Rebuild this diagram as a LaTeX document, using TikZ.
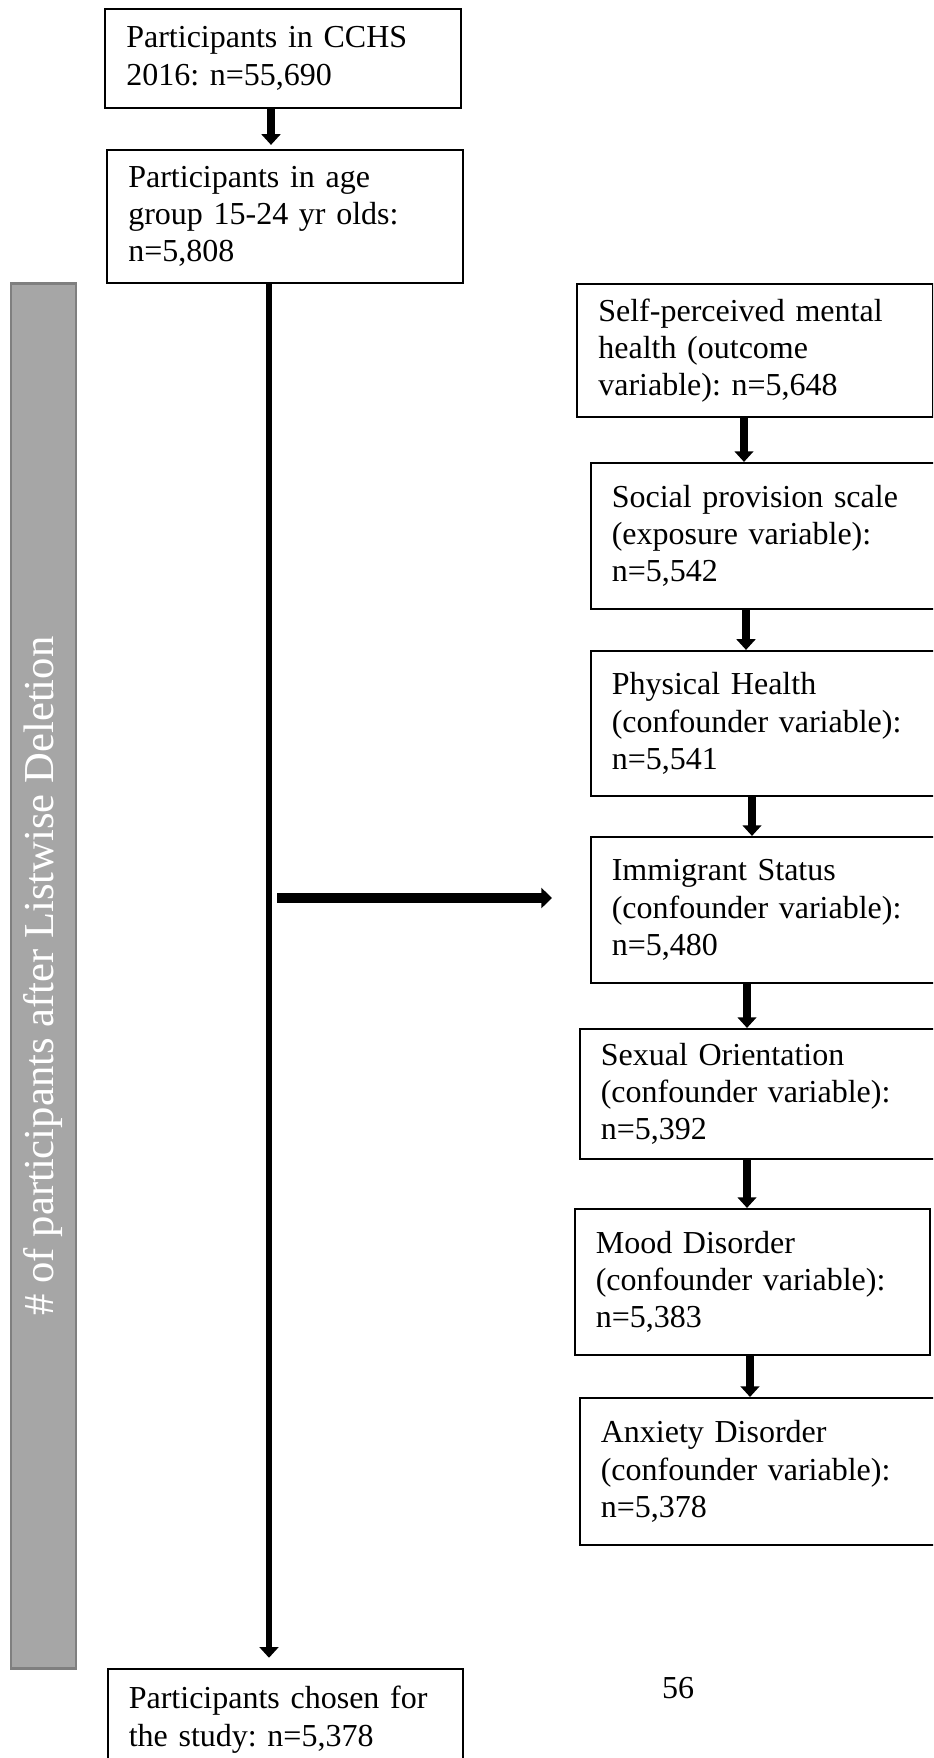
\documentclass[tikz,border=0pt]{standalone}
\usepackage{fontspec}
\setmainfont{Liberation Serif}
\usepackage{xcolor}
\usepackage{tikz}
\usetikzlibrary{arrows.meta,positioning}
\definecolor{barfill}{HTML}{A6A6A6}
\definecolor{barline}{HTML}{7F7F7F}
\frenchspacing

\begin{document}
\begin{tikzpicture}[
    x=0.375pt, y=-0.375pt,
    flowbox/.style={draw, line width=0.8pt, align=left, text width=117.5pt, inner xsep=7.9pt, inner ysep=0pt, font=\fontsize{12}{14}\selectfont},
    arrow/.style={-{Triangle[length=4pt, width=7pt]}, line width=3.2pt},
    mainline/.style={-{Triangle[length=4pt, width=7pt]}, line width=2.6pt},
    sidearrow/.style={-{Triangle[length=4pt, width=7.5pt]}, line width=3.6pt}
]
\useasboundingbox (0,0) rectangle (933,1758);
\clip (0,0) rectangle (933,1758);

% left column
\node[flowbox, minimum height=37.1pt] (cchs) at (283,58.5) {Participants in CCHS\\2016: n=55,690};
\node[flowbox, minimum height=49.9pt] (age) at (285,216.5) {Participants in age\\group 15-24 yr olds:\\n=5,808};
\node[flowbox, minimum height=38pt] (chosen) at (285.5,1719.5) {Participants chosen for\\the study: n=5,378};

% grey side bar
\node[draw=barline, fill=barfill, line width=0.8pt, minimum width=24.4pt, minimum height=519.4pt] (bar) at (43.5,976) {};
\node[rotate=90, text=white, font=\fontsize{16}{19}\selectfont] (barlabel) at (bar.center) {\# of participants after Listwise Deletion};

% right column
\node[flowbox, minimum height=49.9pt] (mental) at (755,350.5) {Self-perceived mental\\health (outcome\\variable): n=5,648};
\node[flowbox, minimum height=54.75pt] (social) at (768.5,536) {Social provision scale\\(exposure variable):\\n=5,542};
\node[flowbox, minimum height=54.4pt] (physical) at (768.5,723.5) {Physical Health\\(confounder variable):\\n=5,541};
\node[flowbox, minimum height=54.75pt] (immigrant) at (768.5,910) {Immigrant Status\\(confounder variable):\\n=5,480};
\node[flowbox, minimum height=48.75pt] (sexual) at (757.5,1094) {Sexual Orientation\\(confounder variable):\\n=5,392};
\node[flowbox, minimum height=54.75pt] (mood) at (752.5,1282) {Mood Disorder\\(confounder variable):\\n=5,383};
\node[flowbox, minimum height=55.1pt] (anxiety) at (757.5,1471.5) {Anxiety Disorder\\(confounder variable):\\n=5,378};

\node[font=\fontsize{12}{14}\selectfont] (pagenum) at (678,1688) {56};

% connectors
\draw[arrow, shorten >=1.5pt] (cchs.south -| 271,0) -- (age.north -| 271,0);
\draw[mainline, shorten >=3.75pt] (age.south -| 269,0) -- (chosen.north -| 269,0);
\coordinate (split) at (277,898);
\coordinate (splitend) at (552,898);
\draw[sidearrow] (split) -- (splitend);

\draw[arrow] (mental.south -| 744,0) -- (social.north -| 744,0);
\draw[arrow] (social.south -| 746,0) -- (physical.north -| 746,0);
\draw[arrow] (physical.south -| 752,0) -- (immigrant.north -| 752,0);
\draw[arrow] (immigrant.south -| 747,0) -- (sexual.north -| 747,0);
\draw[arrow] (sexual.south -| 747,0) -- (mood.north -| 747,0);
\draw[arrow] (mood.south -| 750,0) -- (anxiety.north -| 750,0);
\end{tikzpicture}
\end{document}
